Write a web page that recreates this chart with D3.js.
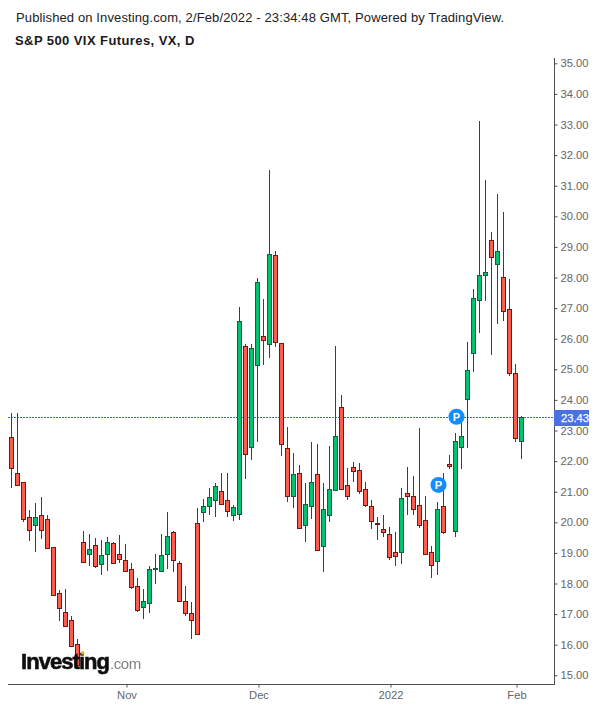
<!DOCTYPE html>
<html>
<head>
<meta charset="utf-8">
<style>
  html, body { margin: 0; padding: 0; background: #fff; }
  svg { display: block; }
  text { font-family: "Liberation Sans", Arial, sans-serif; }
</style>
<script src="https://cdn.jsdelivr.net/npm/d3@7/dist/d3.min.js"></script>
</head>
<body>
<svg id="chart" width="600" height="708"></svg>
<script>
// S&P 500 VIX futures, daily candles
const opens = [
  22.78,21.60,21.31,20.16,19.90,20.23,20.10,19.18,17.68,17.06,16.80,16.01,
  19.35,18.95,19.25,18.63,18.95,19.31,18.95,18.76,18.46,17.91,17.22,17.35,
  18.46,18.40,18.95,19.67,18.66,17.42,17.03,19.97,20.33,20.52,20.72,21.01,
  20.72,20.23,20.26,25.75,22.45,25.13,26.08,25.82,28.73,25.85,22.42,20.85,
  21.60,19.90,20.52,21.57,19.22,20.23,21.07,23.76,21.21,21.80,21.70,21.08,
  20.52,19.97,19.77,19.61,19.02,19.02,20.95,20.85,20.56,20.07,19.02,18.73,
  20.52,21.90,19.71,22.45,24.02,25.52,27.25,28.07,29.22,28.43,28.01,26.96,
  24.87,22.65
];
const highs = [
  23.57,23.57,21.31,20.39,20.62,20.82,20.23,19.18,17.78,17.81,16.93,16.18,
  19.71,19.61,19.48,19.41,19.51,19.35,19.58,19.28,18.66,18.17,17.81,18.56,
  18.95,19.61,20.33,19.71,18.73,17.91,17.39,20.46,20.75,21.11,21.27,21.60,
  21.60,20.56,27.03,25.82,25.82,27.97,27.29,31.51,28.86,25.85,23.10,22.25,
  21.86,21.27,22.61,22.55,21.27,22.48,25.75,24.15,21.76,21.96,21.93,21.31,
  20.72,20.16,20.23,19.84,19.67,21.11,21.81,21.51,23.07,20.85,19.22,20.65,
  21.60,22.19,22.91,23.25,25.88,27.61,33.11,31.18,29.48,30.72,30.13,27.94,
  25.16,23.46
];
const lows = [
  21.13,21.19,20.02,19.40,19.04,19.46,19.15,17.61,16.78,16.59,15.94,15.28,
  18.68,18.58,18.52,18.29,18.42,18.66,18.68,18.40,17.83,17.06,16.85,17.05,
  17.99,18.40,18.47,18.39,17.42,16.95,16.20,16.34,20.02,20.24,20.18,20.56,
  20.18,20.05,20.09,21.42,22.05,22.63,25.13,25.38,25.74,22.18,20.67,20.48,
  19.80,19.37,20.12,19.05,18.39,20.02,21.03,21.08,20.74,21.33,20.93,20.49,
  19.79,19.43,19.53,18.78,18.58,18.65,20.25,20.25,19.82,18.95,18.19,18.29,
  19.61,21.73,19.51,21.73,22.44,24.92,26.20,27.24,25.48,26.49,26.59,24.79,
  22.63,22.08
];
const closes = [
  21.76,21.22,20.10,19.74,20.16,19.74,19.15,17.61,17.19,16.62,15.97,15.34,
  18.71,19.12,18.56,18.92,19.35,18.66,18.79,18.40,17.88,17.12,17.42,18.46,
  18.50,18.92,19.54,18.76,17.42,17.03,16.80,16.34,20.52,20.82,21.18,20.59,
  20.36,20.49,26.57,22.22,25.69,27.84,25.95,28.76,25.88,22.55,20.85,21.57,
  19.80,20.59,21.31,19.09,20.42,21.08,22.81,21.08,20.85,21.67,21.01,20.56,
  20.03,19.96,19.67,18.86,18.89,20.78,20.85,20.42,19.90,18.95,18.60,20.42,
  19.67,21.83,22.65,22.81,24.97,27.32,28.07,28.17,28.66,28.86,26.90,24.87,
  22.75,23.43
];

const priceTicks = d3.range(15, 36);
const dateTickIndex = [19, 41, 63, 84];
const dateTickLabels = ["Nov", "Dec", "2022", "Feb"];
const lastPrice = 23.43;
// Publication flags: candle index and the price level the badge sits on
const flagIndex = [71, 74];
const flagPrice = [21.22, 23.45];

const colors = {
  upFill: "#00c26f", upEdge: "#1f5c3f",
  downFill: "#ff5c50", downEdge: "#6e1818",
  wick: "#1f4f3c", axis: "#505050", tick: "#666",
  last: "#4a70e4", guide: "#3f62dc", flag: "#0f8fff"
};

const svg = d3.select("#chart");
const defs = svg.append("defs");
defs.append("filter").attr("id", "soft")
  .append("feGaussianBlur").attr("stdDeviation", 0.45);

const plotRight = 554, axisY = 684;

const x = d3.scaleLinear().domain([0, opens.length - 1]).range([11.5, 521.5]);
const y = d3.scaleLinear().domain([15, 35]).range([675.3, 63.3]);
const snap = v => Math.round(v);

// Header
svg.append("text").attr("x", 16).attr("y", 22)
  .attr("font-size", 13).attr("letter-spacing", 0.12).attr("fill", "#222")
  .text("Published on Investing.com, 2/Feb/2022 - 23:34:48 GMT, Powered by TradingView.");
svg.append("text").attr("x", 15).attr("y", 45)
  .attr("font-size", 13).attr("font-weight", 700).attr("letter-spacing", 0.42).attr("fill", "#1a1a1a")
  .text("S&P 500 VIX Futures, VX, D");

// Last price guide
svg.append("line")
  .attr("x1", 8).attr("x2", plotRight)
  .attr("y1", snap(y(lastPrice)) + 0.5).attr("y2", snap(y(lastPrice)) + 0.5)
  .attr("stroke", colors.guide).attr("stroke-dasharray", "2 1");

// Candles
const rows = opens.map((o, i) => ({ i, o, h: highs[i], l: lows[i], c: closes[i] }));
const candle = svg.append("g").selectAll("g").data(rows).join("g");

candle.append("line")
  .attr("x1", d => x(d.i)).attr("x2", d => x(d.i))
  .attr("y1", d => snap(y(d.h))).attr("y2", d => snap(y(d.l)))
  .attr("stroke", colors.wick).attr("stroke-width", 1);

candle.append("rect")
  .attr("x", d => x(d.i) - 2)
  .attr("width", 4)
  .attr("y", d => snap(y(Math.max(d.o, d.c))) + 0.5)
  .attr("height", d => Math.max(1, snap(y(Math.min(d.o, d.c))) - snap(y(Math.max(d.o, d.c)))))
  .attr("fill", d => d.c >= d.o ? colors.upFill : colors.downFill)
  .attr("stroke", d => d.c >= d.o ? colors.upEdge : colors.downEdge)
  .attr("stroke-width", 1);

// Price axis
const priceAxis = d3.axisRight(y)
  .tickValues(priceTicks)
  .tickFormat(d3.format(".2f"))
  .tickSize(3)
  .tickPadding(3);
const priceG = svg.append("g")
  .attr("transform", `translate(${plotRight + 0.5},0)`)
  .call(priceAxis);
priceG.select(".domain").attr("d", `M0,58V${axisY + 0.5}`).attr("stroke", colors.axis);
priceG.selectAll(".tick line").attr("stroke", colors.axis);
priceG.selectAll(".tick text")
  .attr("font-size", 11.2).attr("fill", colors.tick)
  .attr("font-family", '"Liberation Sans", Arial, sans-serif');

// Date axis
const dateAxis = d3.axisBottom(x)
  .tickValues(dateTickIndex)
  .tickFormat((d, i) => dateTickLabels[i])
  .tickSize(3)
  .tickPadding(4);
const dateG = svg.append("g")
  .attr("transform", `translate(1,${axisY + 0.5})`)
  .call(dateAxis);
dateG.select(".domain").attr("d", `M7,0H${plotRight}`).attr("stroke", colors.axis);
dateG.selectAll(".tick line").attr("stroke", colors.axis);
dateG.selectAll(".tick text")
  .attr("font-size", 11.2).attr("fill", colors.tick)
  .attr("font-family", '"Liberation Sans", Arial, sans-serif');

// Last price tag
const tagY = snap(y(lastPrice));
svg.append("rect").attr("x", plotRight).attr("y", tagY - 7).attr("width", 35).attr("height", 16).attr("fill", colors.last);
svg.append("text").attr("x", plotRight + 7).attr("y", tagY + 5)
  .attr("font-size", 11.2).attr("fill", "#fff").attr("stroke", "#fff").attr("stroke-width", 0.25)
  .text(d3.format(".2f")(lastPrice));

// Publication badges
const flags = svg.append("g").selectAll("g").data(flagIndex).join("g")
  .attr("transform", (d, i) => `translate(${x(d) + 1},${y(flagPrice[i])})`);
flags.append("circle").attr("r", 8).attr("fill", colors.flag);
flags.append("text").attr("text-anchor", "middle").attr("y", 4)
  .attr("font-size", 11).attr("font-weight", 700).attr("fill", "#fff").text("P");

// Wordmark
const logo = svg.append("g").attr("filter", "url(#soft)");
const mark = logo.append("text").attr("x", 21).attr("y", 668.5);
mark.append("tspan").attr("font-size", 22).attr("font-weight", 700).attr("letter-spacing", -0.95)
  .attr("fill", "#111").attr("stroke", "#111").attr("stroke-width", 0.6).text("Investing");
mark.append("tspan").attr("font-size", 15).attr("letter-spacing", -0.45).attr("fill", "#808080").attr("dx", 1).text(".com");
logo.append("circle").attr("cx", 82.8).attr("cy", 653).attr("r", 1.8).attr("fill", "#f5a623");
</script>
</body>
</html>
